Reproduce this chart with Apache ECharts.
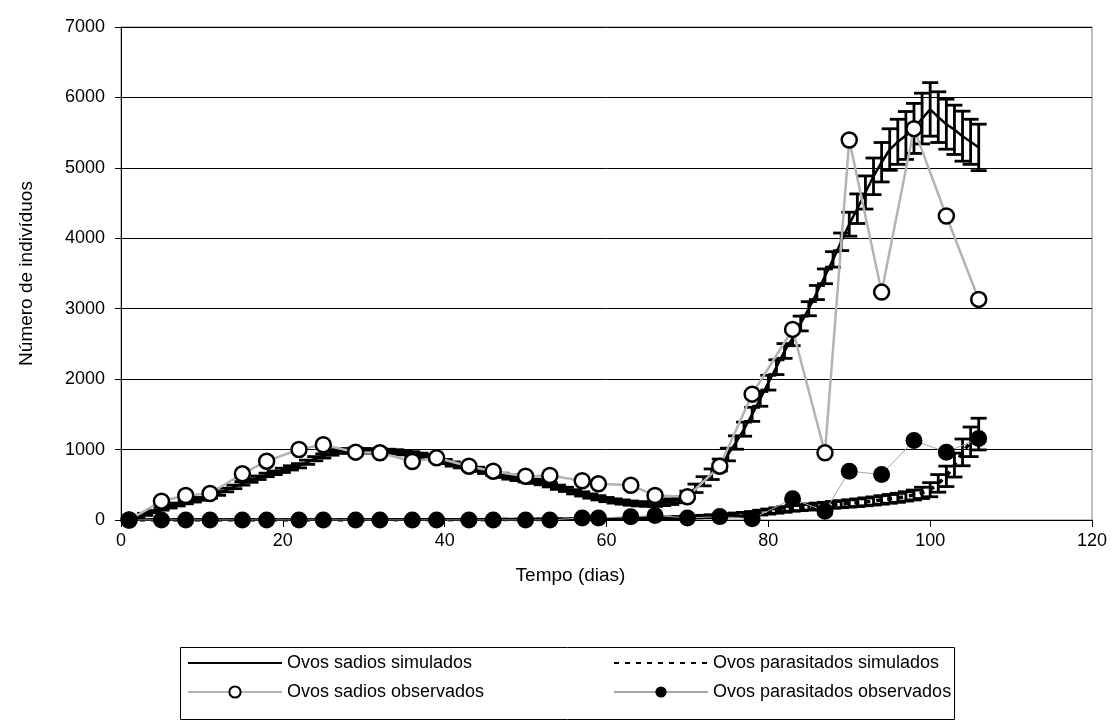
<!DOCTYPE html>
<html>
<head>
<meta charset="utf-8">
<script src="https://cdn.jsdelivr.net/npm/echarts@6/dist/echarts.min.js"></script>
<style>
html,body{margin:0;padding:0;background:#fff;}
#chart{width:1117px;height:722px;}
</style>
</head>
<body>
<div id="chart"></div>
<script>
// ---- data ----
var xTicks = [0, 20, 40, 60, 80, 100, 120];
var yTicks = [0, 1000, 2000, 3000, 4000, 5000, 6000, 7000];

var obsDays = [1,5,8,11,15,18,22,25,29,32,36,39,43,46,50,53,57,59,63,66,70,74,78,83,87,90,94,98,102,106];
var obsHealthy = [0,267,348,376,656,835,1001,1068,963,954,831,883,764,693,622,632,557,514,494,348,330,764,1787,2706,954,5395,3236,5557,4316,3132];
var obsParasit = [0,0,0,0,0,0,0,0,0,0,0,0,0,0,0,0,30,30,45,64,30,48,17,300,125,693,646,1129,963,1158];

// simulated, one value per day (days 1..106)
var simHealthy = [
  0,40,80,120,160,190,220,250,275,300,
  330,375,425,470,520,560,600,640,670,705,
  740,770,820,870,910,950,975,985,990,985,
  980,978,975,968,955,940,920,900,865,830,
  795,770,745,720,690,665,635,610,590,570,
  550,530,500,465,435,400,370,340,315,290,
  270,255,240,230,225,228,240,260,290,360,
  450,550,650,780,930,1100,1290,1500,1720,1950,
  2170,2400,2580,2790,3000,3230,3460,3700,3950,4200,
  4420,4650,4880,5080,5260,5370,5460,5560,5700,5830,
  5720,5620,5540,5450,5370,5290];
var simHealthyErr = [
  5,10,15,15,20,20,20,20,20,20,
  20,25,25,25,25,25,25,25,25,30,
  30,30,30,30,30,30,30,30,30,30,
  30,30,30,30,30,30,30,30,30,30,
  30,30,30,30,30,30,30,30,30,30,
  30,30,30,30,30,30,30,30,30,30,
  30,30,30,30,30,35,35,40,45,50,
  60,65,75,85,90,95,100,100,105,105,
  105,105,105,105,100,100,105,110,125,170,
  210,235,260,280,295,320,340,355,360,380,
  360,355,350,355,320,330];
var simParasit = [
  0,0,0,0,0,0,0,0,0,0,
  0,0,0,0,0,0,0,0,0,0,
  0,0,0,0,0,0,0,0,0,0,
  2,2,2,2,2,3,3,3,3,3,
  4,4,4,5,5,5,6,6,6,7,
  7,8,8,9,9,10,11,12,13,14,
  15,16,18,20,22,25,28,32,36,40,
  45,50,56,62,68,75,82,90,105,120,
  135,150,165,175,185,195,205,215,225,235,
  245,258,270,285,300,315,335,355,385,430,
  520,620,780,960,1110,1220];
var simParasitErr = [
  0,0,0,0,0,0,0,0,0,0,
  0,0,0,0,0,0,0,0,0,0,
  0,0,0,0,0,0,0,0,0,0,
  2,2,2,2,2,3,3,3,3,3,
  3,3,3,4,4,4,4,4,4,5,
  5,5,5,5,5,6,6,6,6,7,
  7,8,8,9,9,10,10,12,12,14,
  15,16,18,20,22,24,26,30,34,36,
  38,40,40,42,44,45,46,48,50,52,
  54,56,58,60,62,64,66,70,80,100,
  125,145,170,190,210,225];

var names = ['Ovos sadios simulados','Ovos parasitados simulados','Ovos sadios observados','Ovos parasitados observados'];

// ---- build ----
function pairs(xs, ys){ return ys.map(function(v,i){ return [xs[i], v]; }); }
var simDays = simHealthy.map(function(_, i){ return i + 1; });
function errData(vals, errs){
  return vals.map(function(v,i){ return [simDays[i], Math.max(0, v - errs[i]), v + errs[i]]; });
}
function renderErr(params, api){
  var x = api.value(0), lo = api.value(1), hi = api.value(2);
  var a = api.coord([x, lo]), b = api.coord([x, hi]);
  var hw = 8;
  var st = {stroke:'#000', lineWidth:2.8};
  return {type:'group', children:[
    {type:'line', shape:{x1:a[0], y1:a[1], x2:b[0], y2:b[1]}, style:st},
    {type:'line', shape:{x1:a[0]-hw, y1:a[1], x2:a[0]+hw, y2:a[1]}, style:st},
    {type:'line', shape:{x1:b[0]-hw, y1:b[1], x2:b[0]+hw, y2:b[1]}, style:st}
  ]};
}

var FONT = 'Liberation Sans, Arial, sans-serif';
var chart = echarts.init(document.getElementById('chart'), null, {renderer:'canvas'});

function legendAt(name, left, top, hideSymbol){
  var item = {name:name};
  if (hideSymbol) item.itemStyle = {opacity:0};
  return {
    data:[item], left:left, top:top, padding:0, itemWidth:94, itemHeight:14, itemGap:0,
    textStyle:{fontFamily:FONT, fontSize:18, color:'#000', padding:[0,0,0,0]},
    selectedMode:false
  };
}
var row1 = 654, row2 = 683;

var option = {
  animation:false,
  backgroundColor:'#fff',
  textStyle:{fontFamily:FONT},
  grid:{left:121, right:25, top:27, bottom:202, show:true, borderColor:'#808080', borderWidth:1, backgroundColor:'transparent'},
  xAxis:{
    type:'value', min:xTicks[0], max:xTicks[xTicks.length-1], interval:20,
    name:'Tempo (dias)', nameLocation:'middle', nameGap:46,
    nameTextStyle:{fontFamily:FONT, fontSize:19, color:'#000', padding:[0,72,0,0]},
    axisLine:{show:true, onZero:false, lineStyle:{color:'#000', width:1}},
    axisTick:{show:true, length:7, lineStyle:{color:'#000'}},
    axisLabel:{fontFamily:FONT, fontSize:18, color:'#000', margin:12},
    splitLine:{show:false}
  },
  yAxis:{
    type:'value', min:yTicks[0], max:yTicks[yTicks.length-1], interval:1000,
    name:'Número de indivíduos', nameLocation:'middle', nameGap:85,
    nameTextStyle:{fontFamily:FONT, fontSize:19, color:'#000'},
    axisLine:{show:true, lineStyle:{color:'#000', width:1}},
    axisTick:{show:true, length:6, lineStyle:{color:'#000'}},
    axisLabel:{fontFamily:FONT, fontSize:18, color:'#000', margin:16, formatter:function(v){ return String(v); }},
    splitLine:{show:true, lineStyle:{color:'#000', width:1}}
  },
  legend:[
    legendAt(names[0], 187, row1, true),
    legendAt(names[1], 613, row1, true),
    legendAt(names[2], 187, row2, false),
    legendAt(names[3], 613, row2, false)
  ],
  graphic:[{
    type:'rect', left:178, top:645, shape:{width:774, height:72},
    style:{fill:'none', stroke:'#000', lineWidth:1}, silent:true
  }],
  series:[
    {
      name:names[0], type:'line', data:pairs(simDays, simHealthy), symbol:'none',
      lineStyle:{color:'#000', width:2.5}, itemStyle:{color:'#000'}, z:2
    },
    {
      name:'errH', type:'custom', data:errData(simHealthy, simHealthyErr),
      renderItem:renderErr, encode:{x:0, y:[1,2]}, z:2, clip:true
    },
    {
      name:names[1], type:'line', data:pairs(simDays, simParasit), symbol:'none',
      lineStyle:{color:'#000', width:3.5, type:[5,6]}, itemStyle:{color:'#000'}, z:2
    },
    {
      name:'errP', type:'custom', data:errData(simParasit, simParasitErr),
      renderItem:renderErr, encode:{x:0, y:[1,2]}, z:2, clip:true
    },
    {
      name:names[2], type:'line', data:pairs(obsDays, obsHealthy),
      symbol:'circle', symbolSize:15,
      lineStyle:{color:'#b3b3b3', width:2.5},
      itemStyle:{color:'#fff', borderColor:'#000', borderWidth:2.5}, z:3
    },
    {
      name:names[3], type:'line', data:pairs(obsDays, obsParasit),
      symbol:'circle', symbolSize:17,
      lineStyle:{color:'#a6a6a6', width:1},
      itemStyle:{color:'#000', borderColor:'#000', borderWidth:0}, z:4
    }
  ]
};
chart.setOption(option);
</script>
</body>
</html>
